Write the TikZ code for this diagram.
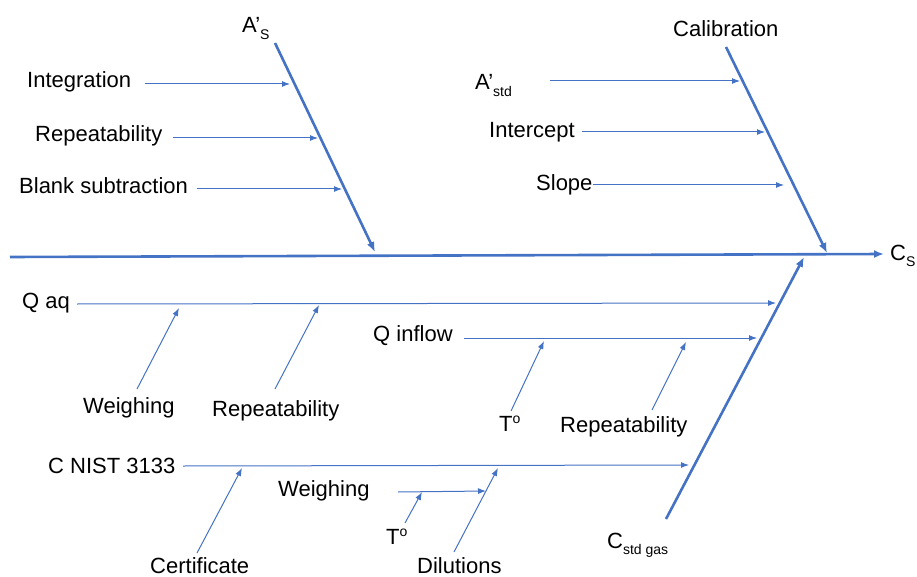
\documentclass[tikz,border=0pt]{standalone}
\usepackage{fontspec}
\setmainfont{Liberation Sans}
\usetikzlibrary{arrows.meta}
\definecolor{fishblue}{HTML}{4472C4}
\newcommand{\lsub}[1]{\raisebox{-0.28em}{\fontsize{14}{14}\selectfont #1}}
\newcommand{\dego}{\raisebox{0.33em}{\fontsize{14}{14}\selectfont o}}
\begin{document}
\begin{tikzpicture}[x=1pt,y=-1pt,
  lbl/.style={font=\fontsize{22}{26}\selectfont, inner sep=0pt, anchor=base west},
  bone/.style={draw=fishblue, line width=2.6pt, -{Latex[length=10pt,width=8pt]}},
  cause/.style={draw=fishblue, line width=1pt, -{Latex[length=8pt,width=6pt]}}]
\useasboundingbox (0,0) rectangle (917,577);

% labels
\node[lbl] (as)    at (242,33)  {A’\lsub{S}};
\node[lbl] (integ) at (27,88)   {Integration};
\node[lbl] (rep1)  at (35,142)  {Repeatability};
\node[lbl] (blank) at (19,194)  {Blank subtraction};
\node[lbl] (calib) at (673,37)  {Calibration};
\node[lbl] (astd)  at (475,90)  {A’\lsub{std}};
\node[lbl] (inter) at (489,138) {Intercept};
\node[lbl] (slope) at (536,191) {Slope};
\node[lbl] (cs)    at (890,260) {C\lsub{S}};
\node[lbl] (qaq)   at (22,308)  {Q aq};
\node[lbl] (weigh1) at (83,413) {Weighing};
\node[lbl] (rep2)  at (212,416) {Repeatability};
\node[lbl] (qin)   at (373,341) {Q inflow};
\node[lbl] (t1)    at (499,431) {T\dego};
\node[lbl] (rep3)  at (560,432) {Repeatability};
\node[lbl] (nist)  at (48,473)  {C NIST 3133};
\node[lbl] (weigh2) at (278,496) {Weighing};
\node[lbl] (t2)    at (386,544) {T\dego};
\node[lbl] (cert)  at (150,573) {Certificate};
\node[lbl] (dil)   at (417,573) {Dilutions};
\node[lbl] (cstd)  at (607,548) {C\lsub{std gas}};

% spine and bones
\coordinate (spL) at (10,257);
\coordinate (spR) at (884,254);
\draw[bone] (spL) -- (spR);
\coordinate (ul0) at (275,43);  \coordinate (ul1) at (375,252);
\coordinate (ur0) at (726,47);  \coordinate (ur1) at (827,253);
\coordinate (lr0) at (666,519); \coordinate (lr1) at (804,257);
\draw[bone] (ul0) -- (ul1);
\draw[bone] (ur0) -- (ur1);
\draw[bone] (lr0) -- (lr1);

% upper-left causes
\coordinate (a1) at (145,84);  \coordinate (b1) at (290,84);
\coordinate (a2) at (173,138); \coordinate (b2) at (318,138);
\coordinate (a3) at (197,189); \coordinate (b3) at (342,189);
\draw[cause] (a1) -- (b1);
\draw[cause] (a2) -- (b2);
\draw[cause] (a3) -- (b3);

% upper-right causes
\coordinate (a4) at (550,81);  \coordinate (b4) at (740,81);
\coordinate (a5) at (582,132); \coordinate (b5) at (765,132);
\coordinate (a6) at (593,185); \coordinate (b6) at (784,185);
\draw[cause] (a4) -- (b4);
\draw[cause] (a5) -- (b5);
\draw[cause] (a6) -- (b6);

% lower causes
\coordinate (qa0) at (77,304);  \coordinate (qa1) at (776,303);
\coordinate (qi0) at (464,338); \coordinate (qi1) at (757,338);
\coordinate (nc0) at (183,466); \coordinate (nc1) at (689,465);
\draw[cause] (qa0) -- (qa1);
\draw[cause] (qi0) -- (qi1);
\draw[cause] (nc0) -- (nc1);

\coordinate (w10) at (137,389); \coordinate (w11) at (179,308);
\coordinate (r20) at (275,389); \coordinate (r21) at (319,305);
\coordinate (t10) at (511,411); \coordinate (t11) at (544,341);
\coordinate (r30) at (652,410); \coordinate (r31) at (686,342);
\coordinate (ce0) at (197,553); \coordinate (ce1) at (242,468);
\coordinate (w20) at (398,492); \coordinate (w21) at (486,491);
\coordinate (t20) at (405,523); \coordinate (t21) at (422,492);
\coordinate (di0) at (454,552); \coordinate (di1) at (498,468);
\draw[cause] (w10) -- (w11);
\draw[cause] (r20) -- (r21);
\draw[cause] (t10) -- (t11);
\draw[cause] (r30) -- (r31);
\draw[cause] (ce0) -- (ce1);
\draw[cause] (w20) -- (w21);
\draw[cause] (t20) -- (t21);
\draw[cause] (di0) -- (di1);
\end{tikzpicture}
\end{document}
